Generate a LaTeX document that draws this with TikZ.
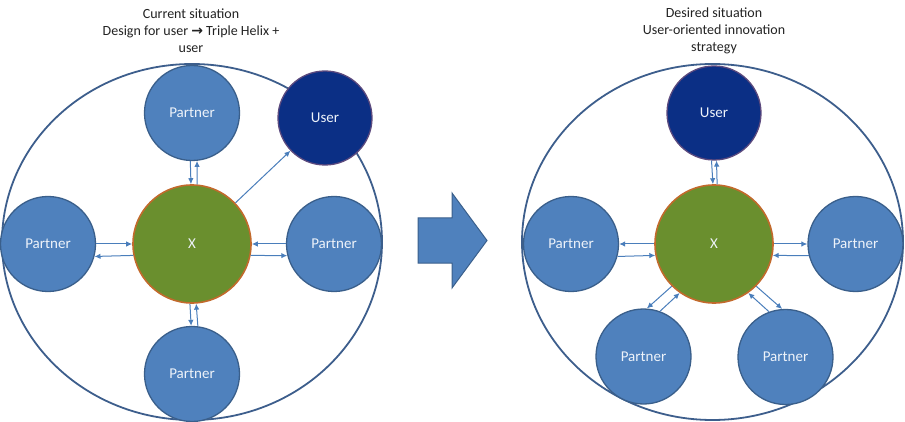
\documentclass[tikz,border=0pt]{standalone}
\usepackage{fontspec}
\setmainfont{Carlito}
\newfontfamily\symfont{DejaVu Sans}
\usetikzlibrary{arrows.meta}
\definecolor{pfill}{HTML}{4F81BD}
\definecolor{pline}{HTML}{3A5F8B}
\definecolor{ufill}{HTML}{0B2F85}
\definecolor{uline}{HTML}{5C4A7E}
\definecolor{xfill}{HTML}{6A8F2E}
\definecolor{xline}{HTML}{C26A2C}
\definecolor{eline}{HTML}{3D5E8C}
\definecolor{aline}{HTML}{4A7EBB}
\definecolor{ttext}{HTML}{222222}
\definecolor{ntext}{HTML}{EEF3FA}
\begin{document}
\begin{tikzpicture}[x=1pt,y=-1pt,
  partner/.style={circle, draw=pline, fill=pfill, line width=1.3pt, minimum size=95pt, inner sep=0pt, text=ntext, font=\fontsize{15}{17}\selectfont},
  usernode/.style={circle, draw=uline, fill=ufill, line width=1.3pt, minimum size=94pt, inner sep=0pt, text=ntext, font=\fontsize{15}{17}\selectfont},
  xnode/.style={circle, draw=xline, fill=xfill, line width=1.6pt, minimum size=118pt, inner sep=0pt, text=ntext, font=\fontsize{15}{17}\selectfont},
  big/.style={draw=eline, line width=1.8pt},
  conn/.style={draw=aline, line width=1pt, -{Latex[length=6pt,width=5.5pt]}},
  title/.style={align=center, text=ttext, font=\fontsize{14}{17}\selectfont}
]
\useasboundingbox (0,0) rectangle (905,422);

% titles
\node[title] (t1) at (191,31) {Current situation\\Design for user {\symfont\bfseries →} Triple Helix +\\user};
\node[title] (t2) at (714,31) {Desired situation\\User-oriented innovation\\strategy};

% big ellipses
\draw[big] (192,242) ellipse [x radius=190pt, y radius=178pt];
\draw[big] (712.5,242) ellipse [x radius=190.5pt, y radius=178pt];

% left diagram
\node[xnode] (x) at (192,244) {X};
\node[partner] (pt) at (192,113) {Partner};
\node[partner] (pl) at (48,244) {Partner};
\node[partner] (pr) at (334,244) {Partner};
\node[partner] (pb) at (192,374) {Partner};
\node[usernode] (u) at (325,118) {User};

\draw[conn] (pl.east) -- (x.west);
\draw[conn] (x.191.7) -- (pl.345.5);
\draw[conn] (pr.west) -- (x.east);
\draw[conn] (x.-11.7) -- (pr.194.5);
\draw[conn] (pt.268.2) -- (x.91.5);
\draw[conn] (x.85.1) -- (pt.276.1);
\draw[conn] (x.268.5) -- (pb.91.8);
\draw[conn] (pb.83.9) -- (x.274.9);
\draw[conn] (x) -- (u);

% block arrow
\filldraw[fill=pfill, draw=pline, line width=1pt] (418,218) -- (452,218) -- (452,193) -- (487,240.5) -- (452,288) -- (452,263) -- (418,263) -- cycle;

% right diagram
\node[xnode] (x2) at (714,244) {X};
\node[usernode] (u2) at (714,113) {User};
\node[partner] (ql) at (571,244) {Partner};
\node[partner] (qr) at (855.5,244) {Partner};
\node[partner] (qbl) at (643.5,356.5) {Partner};
\node[partner] (qbr) at (785.5,357) {Partner};

\draw[conn] (u2.267.6) -- (x2.91.9);
\draw[conn] (x2.87.1) -- (u2.273.7);
\draw[conn] (x2.west) -- (ql.east);
\draw[conn] (ql.345.5) -- (x2.191.7);
\draw[conn] (x2.east) -- (qr.west);
\draw[conn] (qr.194.5) -- (x2.-11.7);
\draw[conn] (x2.225) -- (qbl.86);
\draw[conn] (qbl.70) -- (x2.235);
\draw[conn] (x2.315) -- (qbr.94);
\draw[conn] (qbr.110) -- (x2.305);
\end{tikzpicture}
\end{document}
